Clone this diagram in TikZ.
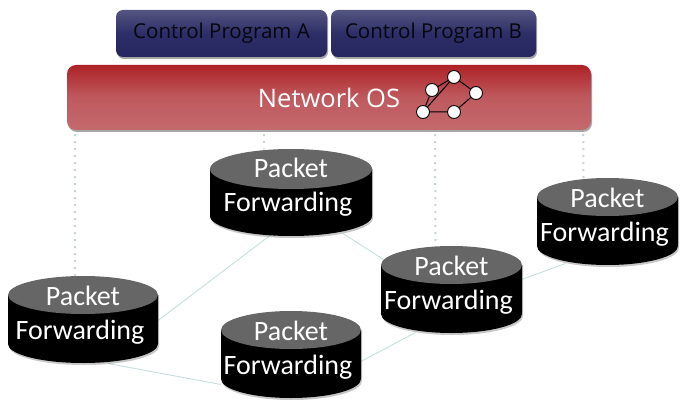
\documentclass[tikz,border=0pt]{standalone}
\usepackage{fontspec}
\setmainfont{Carlito}
\newfontfamily\uifont{Open Sans}
\usetikzlibrary{shadows,calc,backgrounds}
\definecolor{navytop}{HTML}{54557F}
\definecolor{navymid}{HTML}{2D2E68}
\definecolor{navybot}{HTML}{26265F}
\definecolor{redtop}{HTML}{AE2226}
\definecolor{redmid}{HTML}{BE5A5E}
\definecolor{redbot}{HTML}{C4696D}
\definecolor{linkcol}{HTML}{C7DEDE}
\definecolor{dotcol}{HTML}{C6D6D6}
\definecolor{topgrey}{HTML}{666666}
\tikzset{
  softshadow/.style={drop shadow={shadow xshift=1pt,shadow yshift=-2pt,opacity=.35,fill=black}},
  progbox/.style={rounded corners=7pt,minimum height=47pt,inner sep=0pt,
    top color=navytop,bottom color=navybot,middle color=navymid,softshadow,
    text=black!85!navybot,font=\uifont\fontsize{20.5}{22}\selectfont},
  osbox/.style={rounded corners=9pt,minimum height=65pt,minimum width=524pt,inner sep=0pt,
    top color=redtop,bottom color=redbot,middle color=redmid,softshadow},
  ostext/.style={text=white,font=\uifont\fontsize{25.5}{28}\selectfont,inner sep=0pt},
  fwdtext/.style={text=white,align=center,inner sep=0pt,
    font=\fontsize{28}{34}\selectfont},
  gnode/.style={circle,draw=black,fill=white,line width=.9pt,minimum size=13pt,inner sep=0pt},
  gedge/.style={black,line width=1pt},
  linkline/.style={linkcol,line width=.9pt},
  dotline/.style={dotcol,line width=2pt,dash pattern=on 2pt off 5pt},
}
% \fwdcyl{name}{centre x}{top y}{half width}{end radius}{text dy}
\newcommand{\fwdcyl}[6]{%
  \fill[black,opacity=.22] ({#2-#4+1},{#3+#5}) -- ({#2-#4+1},{#3+89-#5})
     arc[start angle=180,end angle=0,x radius=#4,y radius=#5]
     -- ({#2+#4+1},{#3+#5}) -- cycle;
  \fill[black] ({#2-#4},{#3+#5}) -- ({#2-#4},{#3+87-#5})
     arc[start angle=180,end angle=0,x radius=#4,y radius=#5]
     -- ({#2+#4},{#3+#5}) -- cycle;
  \fill[topgrey] (#2,{#3+#5}) ellipse[x radius=#4,y radius=#5];
  \coordinate (#1) at (#2,{#3+43.5});
  \node[fwdtext] (#1t) at (#2,{#3+#6}) {Packet\\\hbox{Forwarding\kern 6pt}};
}
\begin{document}
\begin{tikzpicture}[x=1pt,y=-1pt]
\useasboundingbox (0,0) rectangle (692,403);
\node[osbox] (os) at (329,97.5) {};
\node[progbox,minimum width=211pt] (pa) at (221.5,33.5) {Control Program A};
\node[progbox,minimum width=205pt] (pb) at (433.5,33.5) {Control Program B};
\node[ostext] (ost) at (329,98) {Network OS};
\node[gnode] (g1) at (454,77) {};
\node[gnode] (g2) at (432,90) {};
\node[gnode] (g3) at (476,93) {};
\node[gnode] (g4) at (423,112) {};
\node[gnode] (g5) at (454,112) {};
\draw[gedge] (g4)--(g2) (g2)--(g1) (g1)--(g3) (g3)--(g5) (g5)--(g4) (g4)--(g1);
\fwdcyl{A}{83}{276}{75}{19}{39}
\fwdcyl{B}{291}{149}{81}{20}{38}
\fwdcyl{C}{291}{311}{70}{19}{39}
\fwdcyl{D}{451.5}{246}{70.5}{19}{39}
\fwdcyl{E}{607.5}{178}{70.5}{19}{39}
\begin{scope}[on background layer]
\draw[linkline] ($(A)+(75,1)$) -- ($(B)+(-21,43)$);
\draw[linkline] ($(A)+(25,44)$) -- ($(C)+(-70,30)$);
\draw[linkline] ($(B)+(52,41)$) -- ($(D)+(-68,-30)$);
\draw[linkline] ($(C)+(70,7)$) -- ($(D)+(-36,43)$);
\draw[linkline] ($(D)+(70,-10)$) -- ($(E)+(-42,42)$);
\draw[dotline] ($(os.south west)+(8,4)$) -- ($(A)+(-8,-44)$);
\draw[dotline] ($(os.south)+(-65,4)$) -- ($(B)+(-27,-43)$);
\draw[dotline] ($(os.south)+(106,4)$) -- ($(D)+(-16,-43)$);
\draw[dotline] ($(os.south east)+(-8,4)$) -- ($(E)+(-24,-43)$);
\end{scope}
\end{tikzpicture}
\end{document}
